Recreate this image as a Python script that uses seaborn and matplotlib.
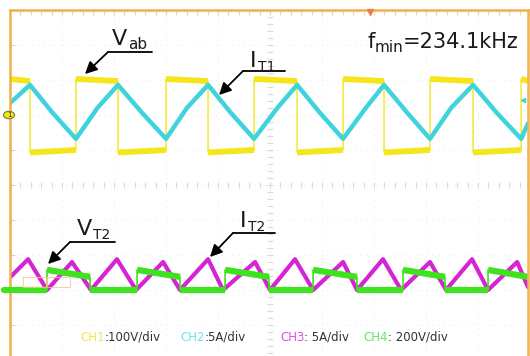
import numpy as np
import pandas as pd
import matplotlib
matplotlib.use("Agg")
import matplotlib.pyplot as plt
import seaborn as sns
from matplotlib.lines import Line2D
from matplotlib.patches import Circle, Rectangle

# ---------------------------------------------------------------
# Oscilloscope capture: 2.5 us/div, four channels
# ---------------------------------------------------------------
T_PER_DIV = 2.5          # us / div
T_END = 24.9             # us visible on screen

# channel scale (units/div) and ground level (div from bottom)
CH1_SCALE, CH1_GND = 100.0, 7.0   # Vab, V
CH2_SCALE, CH2_GND = 5.0, 7.0     # IT1, A
CH3_SCALE, CH3_GND = 5.0, 2.0     # IT2, A
CH4_SCALE, CH4_GND = 200.0, 2.0   # VT2, V

# CH1  Vab: switching instants (us) and plateau levels (V, start/end)
vab_fall = [0.96, 5.19, 9.52, 13.80, 17.98, 22.26]
vab_rise = [3.17, 7.50, 11.73, 16.01, 20.19, 24.57]
vab_high = (103.0, 97.0)
vab_low = (-107.0, -100.0)

# CH2  IT1: corner times (us) and currents (A)
it1_t = [0.00, 0.96, 2.05, 3.17, 4.20, 5.19, 6.35, 7.50, 8.50, 9.52,
         10.62, 11.73, 12.85, 13.80, 14.90, 16.01, 17.10, 17.98, 19.10,
         20.19, 21.20, 22.26, 23.40, 24.57, 24.90]
it1_a = [1.7, 4.3, 0.3, -3.4, 1.0, 4.3, 0.3, -3.4, 1.0, 4.3,
         0.3, -3.4, 1.0, 4.3, 0.3, -3.4, 1.0, 4.3, 0.3,
         -3.4, 1.0, 4.3, 0.3, -3.4, -1.2]

# CH3  IT2: corner times (us) and currents (A)
it2_t = [0.00, 0.87, 1.78, 2.98, 3.89, 5.14, 6.06, 7.36, 8.17, 9.52,
         10.24, 11.78, 12.50, 13.70, 14.57, 16.01, 16.68, 17.93, 18.80,
         20.19, 20.96, 22.21, 22.98, 24.38, 24.90]
it2_a = [1.8, 4.4, 0.0, 4.0, 0.0, 4.4, 0.0, 4.0, 0.0, 4.4,
         0.0, 4.0, 0.0, 4.4, 0.0, 4.0, 0.0, 4.4, 0.0,
         4.0, 0.0, 4.4, 0.0, 4.0, 0.4]

# CH4  VT2: switching instants (us) and levels (V)
vt2_rise = [1.78, 6.11, 10.34, 14.57, 18.89, 22.98]
vt2_fall = [3.85, 8.17, 12.45, 16.68, 20.91]
vt2_high = (115.0, 75.0)
vt2_low = (0.0, 0.0)

# colours
YELLOW = "#f4e61a"
CYAN = "#3fd3dd"
MAGENTA = "#d424d4"
GREEN = "#3fe21e"
BORDER = "#f2b04a"


def square_wave(rises, falls, hi, lo, t_end):
    """Return (full trace, list of plateau segments) for a two-level signal."""
    events = sorted([(t, 1) for t in rises] + [(t, 0) for t in falls])
    state = 0 if events[0][1] == 1 else 1
    bounds = [0.0] + [e[0] for e in events] + [t_end]
    states = [state] + [e[1] for e in events]
    ts, vs, plateaus = [], [], []
    for a, b, s in zip(bounds[:-1], bounds[1:], states):
        lv = hi if s else lo
        ts += [a, b]
        vs += [lv[0], lv[1]]
        plateaus.append(([a, b], [lv[0], lv[1]]))
    return ts, vs, plateaus


def to_div(vals, scale, gnd):
    return [gnd + v / scale for v in vals]


sns.set_theme(style="white")
plt.rcParams["font.family"] = ["DejaVu Sans"]

W, H = 530, 356
fig = plt.figure(figsize=(W / 100, H / 100), dpi=100)
fig.patch.set_facecolor("white")
left, right, top, bottom = 10, 528, 10, 360
ax = fig.add_axes([left / W, 1 - bottom / H, (right - left) / W, (bottom - top) / H])
ax.set_xlim(0, T_END)
ax.set_ylim(0, 10)
ax.set_facecolor("white")

# graticule
ax.set_xticks(np.arange(0, T_END, T_PER_DIV))
ax.set_yticks(np.arange(0, 11, 1))
ax.tick_params(length=0, labelbottom=False, labelleft=False)
ax.grid(True, color="#ececec", linestyle=(0, (1, 4)), linewidth=0.8)
for s in ax.spines.values():
    s.set_color(BORDER)
    s.set_linewidth(1.8)
ax.spines["bottom"].set_visible(False)

# centre-line minor ticks
minor_y = np.arange(0, 10.01, 0.2)
ax.plot(np.full_like(minor_y, 12.5), minor_y, ls="none", marker="_", ms=4,
        mew=0.8, color="#dadada")
minor_x = np.arange(0, T_END, 0.5)
ax.plot(minor_x, np.full_like(minor_x, 5.0), ls="none", marker="|", ms=4,
        mew=0.8, color="#dadada")
ax.plot(minor_x, np.full_like(minor_x, 9.93), ls="none", marker="|", ms=4,
        mew=0.8, color="#ecd6b6")
ax.plot(np.full(10, 0.08), np.arange(0, 10, 1.0), ls="none", marker="_", ms=5,
        mew=0.8, color="#d2d2d2")

# CH1 Vab
t1, v1, plat1 = square_wave(vab_rise, vab_fall, vab_high, vab_low, T_END)
df1 = pd.DataFrame({"t": t1, "y": to_div(v1, CH1_SCALE, CH1_GND)})
sns.lineplot(data=df1, x="t", y="y", ax=ax, color=YELLOW, lw=1.0,
             estimator=None, sort=False)
for pt, pv in plat1:
    sns.lineplot(x=pt, y=to_div(pv, CH1_SCALE, CH1_GND), ax=ax, color=YELLOW,
                 lw=4.2, estimator=None, sort=False, solid_capstyle="butt")

# CH2 IT1
df2 = pd.DataFrame({"t": it1_t, "y": to_div(it1_a, CH2_SCALE, CH2_GND)})
sns.lineplot(data=df2, x="t", y="y", ax=ax, color=CYAN, lw=3.2,
             estimator=None, sort=False)

# CH3 IT2
df3 = pd.DataFrame({"t": it2_t, "y": to_div(it2_a, CH3_SCALE, CH3_GND)})
sns.lineplot(data=df3, x="t", y="y", ax=ax, color=MAGENTA, lw=3.0,
             estimator=None, sort=False)

# CH4 VT2
t4, v4, plat4 = square_wave(vt2_rise, vt2_fall, vt2_high, vt2_low, T_END)
df4 = pd.DataFrame({"t": t4, "y": to_div(v4, CH4_SCALE, CH4_GND)})
sns.lineplot(data=df4, x="t", y="y", ax=ax, color=GREEN, lw=1.2,
             estimator=None, sort=False)
for pt, pv in plat4:
    sns.lineplot(x=pt, y=to_div(pv, CH4_SCALE, CH4_GND), ax=ax, color=GREEN,
                 lw=4.5, estimator=None, sort=False, solid_capstyle="butt")

ax.set_xlabel("")
ax.set_ylabel("")
if ax.get_legend():
    ax.get_legend().remove()


def fx(px):
    return px / W


def fy(py):
    return 1 - py / H


# channel ground markers and trigger position
fig.add_artist(Circle((fx(9), fy(115)), 5.5 / W, transform=fig.transFigure,
                      facecolor=YELLOW, edgecolor="#777733", lw=0.8,
                      clip_on=False))
fig.text(fx(9), fy(115), "1", fontsize=5, ha="center", va="center",
         color="#333333")
fig.add_artist(Line2D([fx(4), fx(12)], [fy(290), fy(290)],
                      transform=fig.transFigure, color=GREEN, lw=4.5))
fig.add_artist(Line2D([fx(370)], [fy(12)], transform=fig.transFigure,
                      marker="v", ms=4, color="#e8804a", ls="none"))
fig.add_artist(Line2D([fx(523)], [fy(100)], transform=fig.transFigure,
                      marker="<", ms=3, color=CYAN, ls="none"))

# trigger level boxes
for x0 in (23, 47):
    fig.add_artist(Rectangle((fx(x0), fy(287)), 23 / W, 10 / H,
                             transform=fig.transFigure, facecolor="none",
                             edgecolor="#f3c890", lw=0.8, alpha=0.8))


def label(px, py, base, sub, size, sub_size, dy=4):
    t = fig.text(fx(px), fy(py), base, fontsize=size, color="#1a1a1a",
                 va="baseline", ha="left")
    fig.canvas.draw()
    bb = t.get_window_extent()
    fig.text(bb.x1 / W + 1 / W, fy(py + dy), sub, fontsize=sub_size,
             color="#1a1a1a", va="baseline", ha="left")


def pointer(x0, x1, y, tx, ty):
    fig.add_artist(Line2D([fx(x0), fx(x1)], [fy(y), fy(y)],
                          transform=fig.transFigure, color="black", lw=1.3))
    ax.annotate("", xy=(fx(tx), fy(ty)), xytext=(fx(x0), fy(y)),
                xycoords="figure fraction", textcoords="figure fraction",
                arrowprops=dict(arrowstyle="-|>,head_length=0.6,head_width=0.3",
                                color="black", lw=1.3, shrinkA=0, shrinkB=0))


label(112, 45, "V", "ab", 16, 11)
pointer(108, 152, 52, 85, 74)
label(250, 67, "I", "T1", 16, 10)
pointer(243, 285, 71, 219, 95)
label(77, 235, "V", "T2", 16, 10)
pointer(70, 115, 242, 48, 264)
label(240, 227, "I", "T2", 16, 10)
pointer(233, 275, 233, 210, 257)

# minimum switching frequency
t = fig.text(fx(367), fy(48), "f", fontsize=15, color="#1a1a1a", va="baseline")
fig.canvas.draw()
bb = t.get_window_extent()
s = fig.text(bb.x1 / W, fy(52), "min", fontsize=11, color="#1a1a1a",
             va="baseline")
fig.canvas.draw()
bb = s.get_window_extent()
fig.text(bb.x1 / W, fy(48), "=234.1kHz", fontsize=15, color="#1a1a1a",
         va="baseline")

# channel settings
settings = [(80, "CH1", ":100V/div", "#f2e64a"),
            (180, "CH2", ":5A/div", "#6ee3f0"),
            (280, "CH3", ": 5A/div", "#e04fe0"),
            (363, "CH4", ": 200V/div", "#66e06a")]
for px, name, rest, col in settings:
    a = fig.text(fx(px), fy(341), name, fontsize=8.5, color=col, va="baseline")
    fig.canvas.draw()
    bb = a.get_window_extent()
    fig.text(bb.x1 / W, fy(341), rest, fontsize=8.5, color="#333333",
             va="baseline")

fig.savefig("out.png", dpi=100, facecolor="white")
